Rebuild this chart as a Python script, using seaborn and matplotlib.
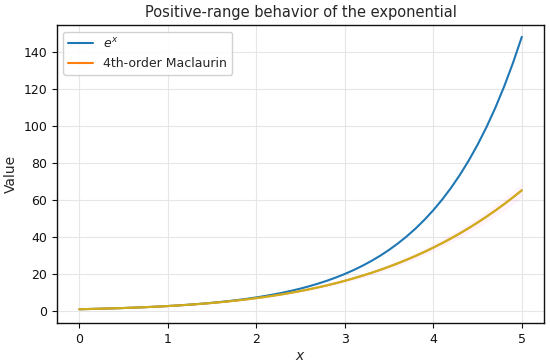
import matplotlib
matplotlib.use("Agg")
import matplotlib.pyplot as plt
import numpy as np
import pandas as pd
import seaborn as sns

# values, x step 0.1
x_vals = [round(0.1 * i, 1) for i in range(51)]
exp_vals = [1.000, 1.105, 1.221, 1.350, 1.492, 1.649, 1.822, 2.014, 2.226, 2.460,
            2.718, 3.004, 3.320, 3.669, 4.055, 4.482, 4.953, 5.474, 6.050, 6.686,
            7.389, 8.166, 9.025, 9.974, 11.023, 12.182, 13.464, 14.880, 16.445, 18.174,
            20.086, 22.198, 24.533, 27.113, 29.964, 33.115, 36.598, 40.447, 44.701, 49.402,
            54.598, 60.340, 66.686, 73.700, 81.451, 90.017, 99.484, 109.947, 121.510, 134.290,
            148.413]
mac_vals = [1.000, 1.105, 1.221, 1.350, 1.492, 1.648, 1.821, 2.012, 2.222, 2.454,
            2.708, 2.988, 3.294, 3.630, 3.997, 4.398, 4.836, 5.312, 5.829, 6.391,
            7.000, 7.659, 8.371, 9.139, 9.966, 10.857, 11.813, 12.840, 13.940, 15.116,
            16.375, 17.718, 19.150, 20.676, 22.299, 24.023, 25.854, 27.796, 29.853, 32.030,
            34.333, 36.766, 39.333, 42.041, 44.894, 47.898, 51.059, 54.381, 57.870, 61.533,
            65.375]
x_ticks = [0, 1, 2, 3, 4, 5]
y_ticks = [0, 20, 40, 60, 80, 100, 120, 140]

df = pd.DataFrame({"x": x_vals, "exp": exp_vals, "mac": mac_vals})

sns.set_style("ticks")
plt.rcParams["font.family"] = ["DejaVu Sans"]

fig, ax = plt.subplots(figsize=(5.5, 3.63), dpi=100)

mac = np.array(mac_vals)
ax.fill_between(df["x"], mac * 0.94, mac * 1.06, color="#ff66cc", alpha=0.07, lw=0)

sns.lineplot(data=df, x="x", y="exp", ax=ax, color="#1f77b4", lw=1.5, label="$e^x$")
sns.lineplot(data=df, x="x", y="mac", ax=ax, color="#ff7f0e", lw=1.5, label="4th-order Maclaurin")
sns.lineplot(data=df, x="x", y="mac", ax=ax, color="#bcbd22", lw=1.5, alpha=0.75)

ax.set_xlim(-0.25, 5.25)
ax.set_ylim(-6.5, 154.6)
ax.set_xticks(x_ticks)
ax.set_yticks(y_ticks)
ax.grid(True, color="#e6e6e6", lw=0.8)
for s in ax.spines.values():
    s.set_color("#111111")
    s.set_linewidth(1.0)
ax.tick_params(labelsize=9, colors="#111111")

ax.set_title("Positive-range behavior of the exponential", fontsize=10.5)
ax.set_xlabel("$x$", fontsize=10, labelpad=2)
ax.set_ylabel("Value", fontsize=10)
ax.legend(loc="upper left", fontsize=9, frameon=True, framealpha=0.9)

plt.subplots_adjust(left=0.104, right=0.989, top=0.93, bottom=0.11)
fig.savefig("out.png", dpi=100)
